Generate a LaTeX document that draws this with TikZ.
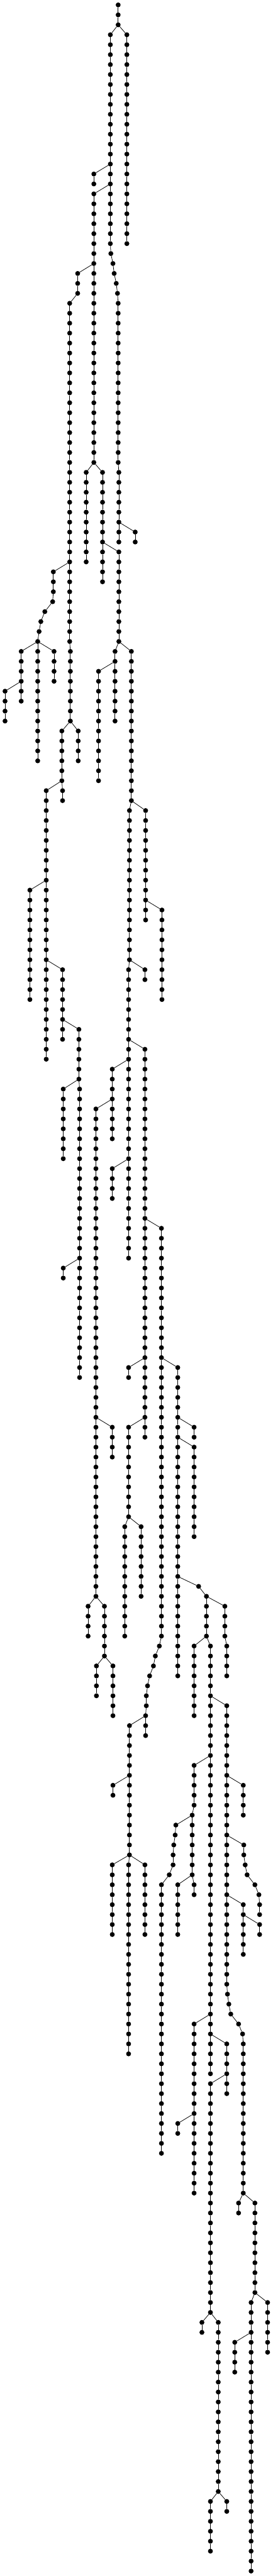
\documentclass[tikz,border=0pt]{standalone}
\usepackage{tikz}

\begin{document}
\begin{tikzpicture}[pt/.style={circle, fill=black, inner sep=0pt, outer sep=0pt, minimum size=10pt},
				line width=1pt, x=0.354pt, y=-20.267pt]
				\useasboundingbox (0,-0.4934) rectangle (1568,258.5);
				\node[pt] (n0-680) at (680,0) {};
				% spalte / erste zeile / letzte zeile / spalte des elternknotens
				\foreach \xa/\ra/\rb/\xp in {
					680/1/2/680, 730/3/24/680, 635/3/24/680,
					638/25/25/635, 650/26/26/638, 657/27/27/650, 669/28/28/657, 676/29/29/669,
					680/30/46/676, 684/47/54/680, 778/53/54/684,
					540/17/18/635, 540/19/46/635, 447/27/29/540, 401/30/64/447,
					307/57/59/401, 303/60/60/307, 258/61/61/303, 235/62/62/258, 225/63/63/235, 217/64/64/225,
					122/65/70/217, 29/69/72/122, 217/65/76/217, 311/65/68/217,
					405/65/72/401, 356/73/78/405, 450/73/76/405, 360/79/80/356,
					266/79/106/356, 172/89/100/266, 360/97/104/266, 454/103/108/360,
					364/109/116/454, 458/109/138/454, 364/127/128/458,
					496/47/56/540, 590/47/58/540, 684/55/64/590,
					662/65/72/684, 567/67/78/662, 756/65/80/684,
					745/81/96/756, 838/81/92/756, 932/91/100/838, 834/97/98/745, 740/97/126/745,
					646/107/114/740, 552/111/160/646, 646/143/146/552, 507/161/164/552, 601/161/166/552,
					555/167/170/601, 650/167/172/601, 646/117/120/740,
					834/105/144/740, 740/137/138/834, 740/143/152/834, 718/153/164/740, 812/153/160/740,
					929/123/164/834, 917/165/165/929, 894/166/166/917, 883/167/167/894, 861/168/168/883,
					849/169/169/861, 842/170/171/849, 838/172/174/842,
					745/173/186/838, 650/179/180/745, 646/187/194/745, 740/187/206/745, 834/187/194/745,
					1023/137/168/929, 1117/143/144/1023, 1117/145/154/1023, 1143/159/159/1023, 1188/160/164/1143,
					1294/161/164/1188, 1305/165/168/1294, 1117/165/172/1188, 1211/165/208/1188,
					1305/171/199/1211, 1400/179/182/1305, 1403/185/186/1305, 1411/187/187/1403, 1422/188/188/1411,
					1467/189/189/1422, 1490/190/190/1467, 1494/191/192/1490, 1400/191/196/1305, 1494/193/194/1400,
					1309/200/200/1305, 1317/201/201/1309, 1328/202/202/1317, 1373/203/203/1328, 1396/204/204/1373,
					1400/205/220/1396, 1373/221/222/1400, 1467/221/230/1400, 1445/231/258/1467, 1540/231/236/1467,
					1351/235/238/1445,
					1117/177/181/1211, 1106/182/188/1117, 1012/183/183/1106, 1008/184/184/1012, 1000/185/185/1008,
					996/186/187/1000, 974/188/188/996, 929/189/216/974, 1023/189/194/1106, 1117/189/190/1106,
					1117/203/220/1211, 1023/213/214/1117, 1305/205/210/1211, 1211/209/232/1305,
					1162/233/234/1211, 1256/233/250/1211, 1211/251/256/1256, 1305/251/252/1256}
				{
					\foreach \rr in {\ra,...,\rb} {
						\pgfmathtruncatemacro{\rq}{\rr-1}
						\ifnum\rr=\ra \edef\xq{\xp}\else \edef\xq{\xa}\fi
						\node[pt] (n\rr-\xa) at (\xa,\rr) {};
						\draw (n\rq-\xq) -- (n\rr-\xa);
					}
				}
			\end{tikzpicture}
\end{document}
